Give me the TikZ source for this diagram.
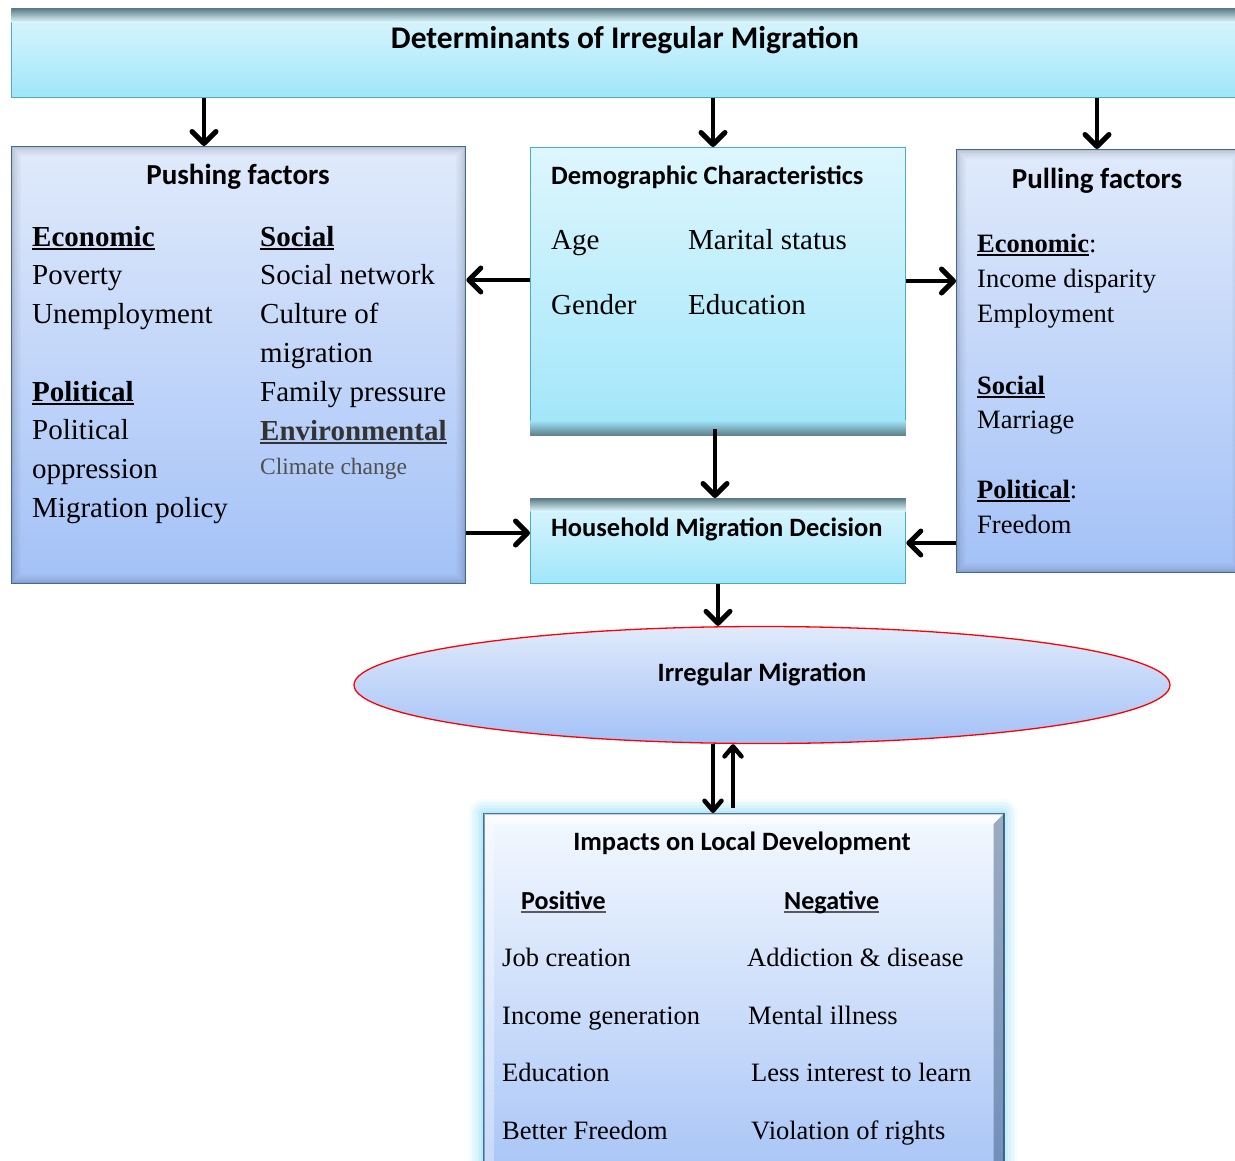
\documentclass[tikz,border=0pt]{standalone}
\usepackage{fontspec}
\setmainfont{Liberation Serif}
\newfontfamily\hfont{Carlito}
\usetikzlibrary{arrows.meta,shapes.geometric}
\definecolor{cyanT}{HTML}{DDF6FD}
\definecolor{cyanB}{HTML}{A0E6FA}
\definecolor{cyanE}{HTML}{4BACC6}
\definecolor{blueT}{HTML}{E0EAFB}
\definecolor{blueB}{HTML}{A3C1F7}
\definecolor{blueE}{HTML}{4F81BD}
\definecolor{shadeC}{HTML}{5E7F88}
\definecolor{glowC}{HTML}{8FDDF5}
\definecolor{impT}{HTML}{F4F9FF}
\definecolor{impB}{HTML}{A9C5F6}
\definecolor{envC}{HTML}{333333}
\definecolor{climC}{HTML}{505050}
\newcommand\ulx[2][black]{\setbox0\hbox{#2}\rlap{\color{#1}\rule[-3.5pt]{\wd0}{2pt}}\box0}
\tikzset{
  cbox/.style={draw=cyanE, line width=1.3pt, top color=cyanT, bottom color=cyanB, rectangle, inner sep=0, anchor=north west},
  bbox/.style={draw=blueE, line width=1.3pt, top color=blueT, bottom color=blueB, rectangle, inner sep=0, anchor=north west},
  body/.style={anchor=base west, inner sep=0, font=\fontsize{29}{35}\selectfont},
  bodys/.style={anchor=base west, inner sep=0, font=\fontsize{26.5}{32}\selectfont},
  hd/.style={anchor=base, inner sep=0, font=\hfont\bfseries\fontsize{29}{35}\selectfont},
  hds/.style={anchor=base west, inner sep=0, font=\hfont\bfseries\fontsize{26.5}{32}\selectfont},
  arr/.style={line width=4.3pt, -{Straight Barb[length=12pt,width=24pt,line width=5pt,round]}},
  arrs/.style={line width=3.8pt, -{Straight Barb[length=10pt,width=17pt,line width=4.5pt,round]}},
}
\begin{document}
\begin{tikzpicture}[x=1pt,y=-1pt]
\useasboundingbox (0,0) rectangle (1235,1160);

% ---------- top box ----------
\node[cbox, minimum width=1228, minimum height=89] (top) at (11,8) {};
\shade[top color=shadeC, bottom color=cyanT] ([shift={(0.7,0.7)}]top.north west) rectangle ([shift={(-0.7,14)}]top.north east);
\node[hd, font=\hfont\bfseries\fontsize{31.5}{36}\selectfont] (ttl) at (625,48) {Determinants of Irregular Migration};

% ---------- pushing box ----------
\node[bbox, minimum width=454, minimum height=437] (push) at (11,146) {};
\foreach \i/\o in {1/0.18,3/0.12,5/0.08,7/0.05,9/0.025}{
  \draw[black, opacity=\o, line width=2pt] ([shift={(\i,\i)}]push.north west) rectangle ([shift={(-\i,-\i)}]push.south east);
}
\node[hd] (pushh) at (238,184) {Pushing factors};
\node[body] (p1) at (32,246) {\bfseries\ulx{Economic}};
\node[body] (p2) at (32,284) {Poverty};
\node[body] (p3) at (32,323) {Unemployment};
\node[body] (p4) at (32,401) {\bfseries\ulx{Political}};
\node[body] (p5) at (32,439) {Political};
\node[body] (p6) at (32,478) {oppression};
\node[body] (p7) at (32,517) {Migration policy};
\node[body] (q1) at (260,246) {\bfseries\ulx{Social}};
\node[body] (q2) at (260,284) {Social network};
\node[body] (q3) at (260,323) {Culture of};
\node[body] (q4) at (260,362) {migration};
\node[body] (q5) at (260,401) {Family pressure};
\node[body, text=envC] (q6) at (260,440) {\bfseries\ulx[envC]{Environmental}};
\node[body, text=climC, font=\fontsize{23.5}{28}\selectfont] (q7) at (260,474) {Climate change};

% ---------- demographic box ----------
\node[cbox, minimum width=375, minimum height=288] (demog) at (530,147) {};
\shade[top color=cyanB, bottom color=shadeC] ([shift={(0.7,-16)}]demog.south west) rectangle ([shift={(-0.7,-0.7)}]demog.south east);
\node[hds] (dh) at (551,184) {Demographic Characteristics};
\node[body] (d1) at (551,249) {Age};
\node[body] (d2) at (688,249) {Marital status};
\node[body] (d3) at (551,314) {Gender};
\node[body] (d4) at (688,314) {Education};

% ---------- household box ----------
\node[cbox, minimum width=375, minimum height=85] (house) at (530,498) {};
\shade[top color=shadeC, bottom color=cyanT] ([shift={(0.7,0.7)}]house.north west) rectangle ([shift={(-0.7,13)}]house.north east);
\node[hds] (hh) at (551,536) {Household Migration Decision};

% ---------- pulling box ----------
\node[bbox, minimum width=285, minimum height=423] (pull) at (956,149) {};
\foreach \i/\o in {1/0.18,3/0.12,5/0.08,7/0.05,9/0.025}{
  \draw[black, opacity=\o, line width=2pt] ([shift={(\i,\i)}]pull.north west) rectangle ([shift={(-\i,-\i)}]pull.south east);
}
\node[hd] (pullh) at (1097,188) {Pulling factors};
\node[bodys] (r1) at (977,252) {\textbf{\ulx{Economic}}:};
\node[bodys] (r2) at (977,287) {Income disparity};
\node[bodys] (r3) at (977,322) {Employment};
\node[bodys] (r4) at (977,394) {\textbf{\ulx{Social}}};
\node[bodys] (r5) at (977,428) {Marriage};
\node[bodys] (r6) at (977,498) {\textbf{\ulx{Political}}:};
\node[bodys] (r7) at (977,533) {Freedom};

% ---------- ellipse ----------
\node[ellipse, draw=red, line width=1.3pt, top color=blueT, bottom color=blueB, minimum width=816, minimum height=117, inner sep=0] (irr) at (762,685) {};
\node[hd, font=\hfont\bfseries\fontsize{26.5}{32}\selectfont] (irrt) at (762,681) {Irregular Migration};

% ---------- impacts box ----------
\foreach \g/\o in {14/0.10,11/0.12,8/0.15,5/0.2,2/0.3}{
  \fill[glowC, opacity=\o, rounded corners=\g] (483-\g,813-\g) rectangle (1003+\g,1175);
}
\node[rectangle, draw=blueE!80!black, line width=1.5pt, top color=impT, bottom color=impB, minimum width=520, minimum height=360, inner sep=0, anchor=north west] (imp) at (483,813) {};
\fill[white, opacity=0.7] ([shift={(0.8,0.8)}]imp.north west) -- ([shift={(-0.8,0.8)}]imp.north east) -- ([shift={(-11,11)}]imp.north east) -- ([shift={(11,11)}]imp.north west) -- cycle;
\fill[white, opacity=0.35] ([shift={(0.8,0.8)}]imp.north west) -- ([shift={(11,11)}]imp.north west) -- ([shift={(11,0)}]imp.south west) -- ([shift={(0.8,0)}]imp.south west) -- cycle;
\fill[blueE!60!black, opacity=0.45] ([shift={(-0.8,0.8)}]imp.north east) -- ([shift={(-11,11)}]imp.north east) -- ([shift={(-11,0)}]imp.south east) -- ([shift={(-0.8,0)}]imp.south east) -- cycle;
\node[hd, font=\hfont\bfseries\fontsize{26.5}{32}\selectfont] (imph) at (742,850) {Impacts on Local Development};
\node[hds, font=\hfont\bfseries\fontsize{26}{32}\selectfont] (pos) at (521,909) {\ulx[black!65]{Positive}};
\node[hds, font=\hfont\bfseries\fontsize{26}{32}\selectfont] (neg) at (784,909) {\ulx[black!65]{Negative}};
\node[bodys] (i1) at (502,966) {Job creation};
\node[bodys] (i2) at (502,1024) {Income generation};
\node[bodys] (i3) at (502,1081) {Education};
\node[bodys] (i4) at (502,1139) {Better Freedom};
\node[bodys] (n1) at (747,966) {Addiction \& disease};
\node[bodys] (n2) at (748,1024) {Mental illness};
\node[bodys] (n3) at (751,1081) {Less interest to learn};
\node[bodys] (n4) at (751,1139) {Violation of rights};

% ---------- connectors ----------
\coordinate (c1) at (204,0);
\coordinate (c2) at (713,0);
\coordinate (c3) at (1097,0);
\coordinate (c4) at (0,280);
\coordinate (c5) at (0,281);
\coordinate (c6) at (715,0);
\coordinate (c7) at (0,533);
\coordinate (c8) at (0,543);
\coordinate (c9) at (718,0);
\coordinate (c10) at (713,0);
\coordinate (upstart) at (733,808);
\draw[arr] (c1 |- top.south) -- (c1 |- push.north);
\draw[arr] (c2 |- top.south) -- (c2 |- demog.north);
\draw[arr] (c3 |- top.south) -- (c3 |- pull.north);
\draw[arr] (demog.west |- c4) -- (push.east |- c4);
\draw[arr] (demog.east |- c5) -- (pull.west |- c5);
\draw[arr] ([yshift=7pt]c6 |- demog.south) -- (c6 |- house.north);
\draw[arr] (push.east |- c7) -- (house.west |- c7);
\draw[arr] (pull.west |- c8) -- (house.east |- c8);
\draw[arr] (c9 |- house.south) -- (c9 |- irr.north);
\draw[arrs] (c10 |- irr.south) -- (c10 |- imp.north);
\draw[arrs] (upstart) -- (upstart |- irr.south);
\end{tikzpicture}
\end{document}
